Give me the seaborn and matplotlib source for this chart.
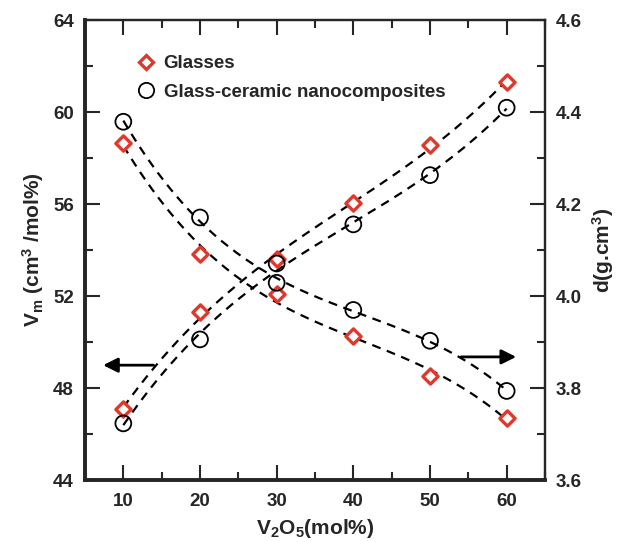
import numpy as np
import pandas as pd
import matplotlib
matplotlib.use("Agg")
import matplotlib.pyplot as plt
import seaborn as sns
from matplotlib.ticker import MultipleLocator
from matplotlib.lines import Line2D

# data
v2o5 = [10, 20, 30, 40, 50, 60]
vm_glass = [47.09, 51.29, 53.60, 56.03, 58.57, 61.32]
vm_gc = [46.47, 50.12, 53.42, 55.12, 57.26, 60.19]
d_glass = [4.333, 4.091, 4.004, 3.914, 3.827, 3.736]
d_gc = [4.379, 4.171, 4.029, 3.970, 3.903, 3.794]

red = "#e0382b"

sns.set_style("ticks")
plt.rcParams["font.family"] = ["Liberation Sans", "DejaVu Sans"]
plt.rcParams["font.weight"] = "bold"
plt.rcParams["mathtext.fontset"] = "custom"
plt.rcParams["mathtext.rm"] = "Liberation Sans:bold"
plt.rcParams["mathtext.bf"] = "Liberation Sans:bold"
plt.rcParams["mathtext.default"] = "bf"

df = pd.DataFrame({"x": v2o5, "vm_glass": vm_glass, "vm_gc": vm_gc,
                   "d_glass": d_glass, "d_gc": d_gc})

# smooth dashed guide curves (cubic fit through each series)
xs = np.linspace(10, 60, 200)
fits = pd.DataFrame({"x": xs})
for col in ["vm_glass", "vm_gc", "d_glass", "d_gc"]:
    fits[col] = np.polyval(np.polyfit(df["x"], df[col], 3), xs)

fig = plt.figure(figsize=(6.25, 5.42), dpi=100)
ax = fig.add_axes([0.136, 0.114, 0.736, 0.849])
ax2 = ax.twinx()

dash = dict(color="black", lw=1.6, dashes=(4, 3), zorder=1)
for col in ["vm_glass", "vm_gc"]:
    sns.lineplot(data=fits, x="x", y=col, ax=ax, **dash)
for col in ["d_glass", "d_gc"]:
    sns.lineplot(data=fits, x="x", y=col, ax=ax2, **dash)

sns.scatterplot(data=df, x="x", y="vm_glass", ax=ax, marker="D", s=60,
                facecolor="white", edgecolor=red, linewidth=2.4, zorder=3)
sns.scatterplot(data=df, x="x", y="vm_gc", ax=ax, marker="o", s=130,
                facecolor="none", edgecolor="black", linewidth=1.3, zorder=3)
sns.scatterplot(data=df, x="x", y="d_glass", ax=ax2, marker="D", s=60,
                facecolor="white", edgecolor=red, linewidth=2.4, zorder=3)
sns.scatterplot(data=df, x="x", y="d_gc", ax=ax2, marker="o", s=130,
                facecolor="none", edgecolor="black", linewidth=1.3, zorder=3)

ax.set_xlim(5, 65)
ax.set_ylim(44, 64)
ax2.set_ylim(3.6, 4.6)

ax.xaxis.set_major_locator(MultipleLocator(10))
ax.xaxis.set_minor_locator(MultipleLocator(5))
ax.yaxis.set_major_locator(MultipleLocator(4))
ax.yaxis.set_minor_locator(MultipleLocator(2))
ax2.yaxis.set_major_locator(MultipleLocator(0.2))
ax2.yaxis.set_minor_locator(MultipleLocator(0.1))
ax2.yaxis.set_major_formatter(matplotlib.ticker.FormatStrFormatter("%.1f"))

ax.tick_params(axis="x", which="both", direction="in", top=True, bottom=True,
               labelsize=13.5, pad=9)
ax.tick_params(axis="y", which="both", direction="in", left=True, right=False,
               labelsize=13.5, pad=8)
ax.tick_params(which="major", length=11, width=1.5)
ax.tick_params(which="minor", length=6, width=1.5)
ax2.tick_params(axis="y", which="both", direction="in", labelsize=13.5, pad=8)
ax2.tick_params(which="major", length=11, width=1.5)
ax2.tick_params(which="minor", length=6, width=1.5)

for a in (ax, ax2):
    a.spines["left"].set_linewidth(2.6)
    a.spines["bottom"].set_linewidth(2.6)
    a.spines["top"].set_linewidth(1.6)
    a.spines["right"].set_linewidth(1.6)

ax.set_xlabel(r"V$_2$O$_5$(mol%)", fontsize=15, fontweight="bold", labelpad=5)
ax.set_ylabel(r"V$_\mathrm{m}$ (cm$^3$ /mol%)", fontsize=15, fontweight="bold", labelpad=5)
ax2.set_ylabel(r"d(g.cm$^3$)", fontsize=15, fontweight="bold", labelpad=6)

# arrows pointing to the corresponding axis
ax.annotate("", xy=(7.0, 49.0), xytext=(14.3, 49.0),
            arrowprops=dict(arrowstyle="-|>", color="black", lw=2, mutation_scale=22))
ax2.annotate("", xy=(61.6, 3.868), xytext=(53.7, 3.868),
             arrowprops=dict(arrowstyle="-|>", color="black", lw=2, mutation_scale=22))

handles = [
    Line2D([], [], ls="none", marker="D", ms=7.5, mfc="white", mec=red, mew=2.4),
    Line2D([], [], ls="none", marker="o", ms=11, mfc="none", mec="black", mew=1.3),
]
ax2.legend(handles, ["Glasses", "Glass-ceramic nanocomposites"], loc="upper left",
           bbox_to_anchor=(0.075, 0.96), frameon=False, handletextpad=0.45,
           labelspacing=0.6, prop=dict(size=13.5, weight="bold"), handlelength=1.0)

fig.savefig("out.png", dpi=100)
